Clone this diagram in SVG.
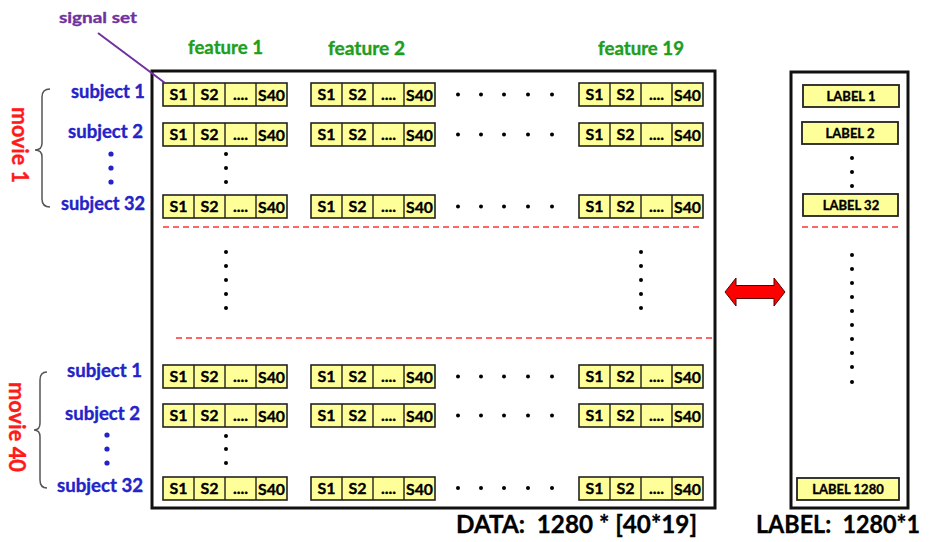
<svg xmlns="http://www.w3.org/2000/svg" width="936" height="542" viewBox="0 0 936 542">
<style>
text{font-family:Lato,"Liberation Sans","DejaVu Sans",sans-serif;font-weight:bold;stroke-width:0.35;stroke-linejoin:round}
.bg{fill:#ffffff}
.box{fill:none;stroke:#111;stroke-width:3}
.sig rect{fill:#FFFF99;stroke:#222;stroke-width:1.6}
.sig path{fill:none;stroke:#222;stroke-width:1.4}
.sig text{font-size:16px;fill:#000;stroke:#000;text-anchor:middle}
.lab rect{fill:#FFFF99;stroke:#222;stroke-width:1.8}
.lab text{font-size:13px;fill:#000;stroke:#000;text-anchor:middle}
.subj{font-size:18px;fill:#2323C8;stroke:#2323C8}
.feat{font-size:18px;fill:#1E9E1E;stroke:#1E9E1E}
.movie{font-size:22px;fill:#FF1A1A;stroke:#FF1A1A;text-anchor:middle}
.cap{font-size:25px;fill:#000;stroke:#000}
.sigset{font-size:16px;fill:#7030A0;stroke:#7030A0}
.dash{fill:none;stroke:#FF3333;stroke-width:1.5;stroke-dasharray:6 4}
.dot{fill:#000}
.bdot{fill:#2323C8}
.brace{fill:none;stroke:#555;stroke-width:1.5}
.ptr{fill:none;stroke:#7030A0;stroke-width:2}
.arrow{fill:#FF0000;stroke:#5a0000;stroke-width:1}
</style>
<rect class="bg" x="0" y="0" width="936" height="542"/>

<!-- containers -->
<g id="data-box"><rect class="box" x="152" y="71" width="563" height="437"/></g>
<g id="label-box"><rect class="box" x="791" y="72" width="117" height="436"/></g>

<!-- headers -->
<g id="hdr-signal-set"><text class="sigset" x="59" y="23" textLength="78" lengthAdjust="spacingAndGlyphs">signal set</text></g>
<g id="hdr-f1"><text class="feat" x="188" y="54" textLength="75" lengthAdjust="spacingAndGlyphs">feature 1</text></g>
<g id="hdr-f2"><text class="feat" x="328" y="55" textLength="77" lengthAdjust="spacingAndGlyphs">feature 2</text></g>
<g id="hdr-f19"><text class="feat" x="598" y="55" textLength="86" lengthAdjust="spacingAndGlyphs">feature 19</text></g>

<!-- movie labels & braces -->
<g id="movie1">
<path class="brace" d="M50 89 Q42 89 42 97 V143 Q42 150 35 150 Q42 150 42 157 V199 Q42 207 50 207"/>
<text class="movie" x="12" y="145" transform="rotate(90 12 145)" textLength="76" lengthAdjust="spacingAndGlyphs">movie 1</text>
</g>
<g id="movie40">
<path class="brace" d="M47 372 Q40 372 40 380 V423 Q40 430 34 430 Q40 430 40 437 V480 Q40 488 47 488"/>
<text class="movie" x="9" y="427" transform="rotate(90 9 427)" textLength="90" lengthAdjust="spacingAndGlyphs">movie 40</text>
</g>

<!-- subject labels -->
<g id="m1-subj1"><text class="subj" x="71" y="98" textLength="74" lengthAdjust="spacingAndGlyphs">subject 1</text></g>
<g id="m1-subj2"><text class="subj" x="68" y="138" textLength="75" lengthAdjust="spacingAndGlyphs">subject 2</text></g>
<g id="m1-subj32"><text class="subj" x="61" y="210" textLength="84" lengthAdjust="spacingAndGlyphs">subject 32</text></g>
<g id="m40-subj1"><text class="subj" x="67" y="377" textLength="75" lengthAdjust="spacingAndGlyphs">subject 1</text></g>
<g id="m40-subj2"><text class="subj" x="65" y="420" textLength="75" lengthAdjust="spacingAndGlyphs">subject 2</text></g>
<g id="m40-subj32"><text class="subj" x="57" y="492" textLength="86" lengthAdjust="spacingAndGlyphs">subject 32</text></g>
<g id="subj-dots">
<circle class="bdot" cx="111" cy="154" r="2.6"/><circle class="bdot" cx="111" cy="168" r="2.6"/><circle class="bdot" cx="111" cy="182" r="2.6"/>
<circle class="bdot" cx="107" cy="435" r="2.6"/><circle class="bdot" cx="107" cy="449" r="2.6"/><circle class="bdot" cx="107" cy="463" r="2.6"/>
</g>

<!-- signal sets: movie 1 -->
<g id="m1-s1-f1" class="sig" transform="translate(163,83)"><rect width="124" height="23"/><path d="M31 0V23M62 0V23M93 0V23"/><text x="15.5" y="17">S1</text><text x="46.5" y="17">S2</text><text x="77.5" y="17">....</text><text x="108.5" y="17.5" textLength="27" lengthAdjust="spacingAndGlyphs">S40</text></g>
<g id="m1-s1-f2" class="sig" transform="translate(311,83)"><rect width="124" height="23"/><path d="M31 0V23M62 0V23M93 0V23"/><text x="15.5" y="17">S1</text><text x="46.5" y="17">S2</text><text x="77.5" y="17">....</text><text x="108.5" y="17.5" textLength="27" lengthAdjust="spacingAndGlyphs">S40</text></g>
<g id="m1-s1-f19" class="sig" transform="translate(579,83)"><rect width="124" height="23"/><path d="M31 0V23M62 0V23M93 0V23"/><text x="15.5" y="17">S1</text><text x="46.5" y="17">S2</text><text x="77.5" y="17">....</text><text x="108.5" y="17.5" textLength="27" lengthAdjust="spacingAndGlyphs">S40</text></g>
<g id="m1-s2-f1" class="sig" transform="translate(163,123)"><rect width="124" height="23"/><path d="M31 0V23M62 0V23M93 0V23"/><text x="15.5" y="17">S1</text><text x="46.5" y="17">S2</text><text x="77.5" y="17">....</text><text x="108.5" y="17.5" textLength="27" lengthAdjust="spacingAndGlyphs">S40</text></g>
<g id="m1-s2-f2" class="sig" transform="translate(311,123)"><rect width="124" height="23"/><path d="M31 0V23M62 0V23M93 0V23"/><text x="15.5" y="17">S1</text><text x="46.5" y="17">S2</text><text x="77.5" y="17">....</text><text x="108.5" y="17.5" textLength="27" lengthAdjust="spacingAndGlyphs">S40</text></g>
<g id="m1-s2-f19" class="sig" transform="translate(579,123)"><rect width="124" height="23"/><path d="M31 0V23M62 0V23M93 0V23"/><text x="15.5" y="17">S1</text><text x="46.5" y="17">S2</text><text x="77.5" y="17">....</text><text x="108.5" y="17.5" textLength="27" lengthAdjust="spacingAndGlyphs">S40</text></g>
<g id="m1-s32-f1" class="sig" transform="translate(163,195)"><rect width="124" height="23"/><path d="M31 0V23M62 0V23M93 0V23"/><text x="15.5" y="17">S1</text><text x="46.5" y="17">S2</text><text x="77.5" y="17">....</text><text x="108.5" y="17.5" textLength="27" lengthAdjust="spacingAndGlyphs">S40</text></g>
<g id="m1-s32-f2" class="sig" transform="translate(311,195)"><rect width="124" height="23"/><path d="M31 0V23M62 0V23M93 0V23"/><text x="15.5" y="17">S1</text><text x="46.5" y="17">S2</text><text x="77.5" y="17">....</text><text x="108.5" y="17.5" textLength="27" lengthAdjust="spacingAndGlyphs">S40</text></g>
<g id="m1-s32-f19" class="sig" transform="translate(579,195)"><rect width="124" height="23"/><path d="M31 0V23M62 0V23M93 0V23"/><text x="15.5" y="17">S1</text><text x="46.5" y="17">S2</text><text x="77.5" y="17">....</text><text x="108.5" y="17.5" textLength="27" lengthAdjust="spacingAndGlyphs">S40</text></g>

<!-- signal sets: movie 40 -->
<g id="m40-s1-f1" class="sig" transform="translate(163,365)"><rect width="124" height="23"/><path d="M31 0V23M62 0V23M93 0V23"/><text x="15.5" y="17">S1</text><text x="46.5" y="17">S2</text><text x="77.5" y="17">....</text><text x="108.5" y="17.5" textLength="27" lengthAdjust="spacingAndGlyphs">S40</text></g>
<g id="m40-s1-f2" class="sig" transform="translate(311,365)"><rect width="124" height="23"/><path d="M31 0V23M62 0V23M93 0V23"/><text x="15.5" y="17">S1</text><text x="46.5" y="17">S2</text><text x="77.5" y="17">....</text><text x="108.5" y="17.5" textLength="27" lengthAdjust="spacingAndGlyphs">S40</text></g>
<g id="m40-s1-f19" class="sig" transform="translate(579,365)"><rect width="124" height="23"/><path d="M31 0V23M62 0V23M93 0V23"/><text x="15.5" y="17">S1</text><text x="46.5" y="17">S2</text><text x="77.5" y="17">....</text><text x="108.5" y="17.5" textLength="27" lengthAdjust="spacingAndGlyphs">S40</text></g>
<g id="m40-s2-f1" class="sig" transform="translate(163,404)"><rect width="124" height="23"/><path d="M31 0V23M62 0V23M93 0V23"/><text x="15.5" y="17">S1</text><text x="46.5" y="17">S2</text><text x="77.5" y="17">....</text><text x="108.5" y="17.5" textLength="27" lengthAdjust="spacingAndGlyphs">S40</text></g>
<g id="m40-s2-f2" class="sig" transform="translate(311,404)"><rect width="124" height="23"/><path d="M31 0V23M62 0V23M93 0V23"/><text x="15.5" y="17">S1</text><text x="46.5" y="17">S2</text><text x="77.5" y="17">....</text><text x="108.5" y="17.5" textLength="27" lengthAdjust="spacingAndGlyphs">S40</text></g>
<g id="m40-s2-f19" class="sig" transform="translate(579,404)"><rect width="124" height="23"/><path d="M31 0V23M62 0V23M93 0V23"/><text x="15.5" y="17">S1</text><text x="46.5" y="17">S2</text><text x="77.5" y="17">....</text><text x="108.5" y="17.5" textLength="27" lengthAdjust="spacingAndGlyphs">S40</text></g>
<g id="m40-s32-f1" class="sig" transform="translate(163,477)"><rect width="124" height="23"/><path d="M31 0V23M62 0V23M93 0V23"/><text x="15.5" y="17">S1</text><text x="46.5" y="17">S2</text><text x="77.5" y="17">....</text><text x="108.5" y="17.5" textLength="27" lengthAdjust="spacingAndGlyphs">S40</text></g>
<g id="m40-s32-f2" class="sig" transform="translate(311,477)"><rect width="124" height="23"/><path d="M31 0V23M62 0V23M93 0V23"/><text x="15.5" y="17">S1</text><text x="46.5" y="17">S2</text><text x="77.5" y="17">....</text><text x="108.5" y="17.5" textLength="27" lengthAdjust="spacingAndGlyphs">S40</text></g>
<g id="m40-s32-f19" class="sig" transform="translate(579,477)"><rect width="124" height="23"/><path d="M31 0V23M62 0V23M93 0V23"/><text x="15.5" y="17">S1</text><text x="46.5" y="17">S2</text><text x="77.5" y="17">....</text><text x="108.5" y="17.5" textLength="27" lengthAdjust="spacingAndGlyphs">S40</text></g>

<!-- ellipsis dots in data box -->
<g id="data-dots">
<g transform="translate(0,94.5)"><circle class="dot" cx="458" cy="0" r="2"/><circle class="dot" cx="481" cy="0" r="2"/><circle class="dot" cx="504" cy="0" r="2"/><circle class="dot" cx="528" cy="0" r="2"/><circle class="dot" cx="552" cy="0" r="2"/></g>
<g transform="translate(0,134.5)"><circle class="dot" cx="458" cy="0" r="2"/><circle class="dot" cx="481" cy="0" r="2"/><circle class="dot" cx="504" cy="0" r="2"/><circle class="dot" cx="528" cy="0" r="2"/><circle class="dot" cx="552" cy="0" r="2"/></g>
<g transform="translate(0,206.5)"><circle class="dot" cx="458" cy="0" r="2"/><circle class="dot" cx="481" cy="0" r="2"/><circle class="dot" cx="504" cy="0" r="2"/><circle class="dot" cx="528" cy="0" r="2"/><circle class="dot" cx="552" cy="0" r="2"/></g>
<g transform="translate(0,376.5)"><circle class="dot" cx="458" cy="0" r="2"/><circle class="dot" cx="481" cy="0" r="2"/><circle class="dot" cx="504" cy="0" r="2"/><circle class="dot" cx="528" cy="0" r="2"/><circle class="dot" cx="552" cy="0" r="2"/></g>
<g transform="translate(0,415.5)"><circle class="dot" cx="458" cy="0" r="2"/><circle class="dot" cx="481" cy="0" r="2"/><circle class="dot" cx="504" cy="0" r="2"/><circle class="dot" cx="528" cy="0" r="2"/><circle class="dot" cx="552" cy="0" r="2"/></g>
<g transform="translate(0,488)"><circle class="dot" cx="458" cy="0" r="2"/><circle class="dot" cx="481" cy="0" r="2"/><circle class="dot" cx="504" cy="0" r="2"/><circle class="dot" cx="528" cy="0" r="2"/><circle class="dot" cx="552" cy="0" r="2"/></g>
<circle class="dot" cx="226" cy="154" r="2"/><circle class="dot" cx="226" cy="168" r="2"/><circle class="dot" cx="226" cy="182" r="2"/>
<circle class="dot" cx="226" cy="436" r="2"/><circle class="dot" cx="226" cy="449" r="2"/><circle class="dot" cx="226" cy="463" r="2"/>
<circle class="dot" cx="226" cy="252" r="2"/><circle class="dot" cx="226" cy="266" r="2"/><circle class="dot" cx="226" cy="280" r="2"/><circle class="dot" cx="226" cy="294" r="2"/><circle class="dot" cx="226" cy="308" r="2"/>
<circle class="dot" cx="641" cy="252" r="2"/><circle class="dot" cx="641" cy="266" r="2"/><circle class="dot" cx="641" cy="280" r="2"/><circle class="dot" cx="641" cy="294" r="2"/><circle class="dot" cx="641" cy="308" r="2"/>
</g>

<!-- separators -->
<g id="separators">
<line class="dash" x1="163" y1="227" x2="701" y2="227"/>
<line class="dash" x1="176" y1="338" x2="714" y2="338"/>
<line class="dash" x1="802" y1="227" x2="898" y2="227"/>
</g>

<!-- labels -->
<g id="label1" class="lab"><rect x="803" y="85" width="96" height="22"/><text x="851" y="100.5">LABEL 1</text></g>
<g id="label2" class="lab"><rect x="802" y="122" width="96" height="22"/><text x="850" y="137.5">LABEL 2</text></g>
<g id="label32" class="lab"><rect x="803" y="194" width="95" height="22"/><text x="851" y="209.5">LABEL 32</text></g>
<g id="label1280" class="lab"><rect x="797" y="478" width="102" height="22"/><text x="848" y="493.5">LABEL 1280</text></g>
<g id="label-dots">
<circle class="dot" cx="852" cy="158" r="2"/><circle class="dot" cx="852" cy="172" r="2"/><circle class="dot" cx="852" cy="186" r="2"/>
<circle class="dot" cx="852" cy="255" r="2"/><circle class="dot" cx="852" cy="269" r="2"/><circle class="dot" cx="852" cy="283" r="2"/><circle class="dot" cx="852" cy="297" r="2"/><circle class="dot" cx="852" cy="311" r="2"/><circle class="dot" cx="852" cy="325" r="2"/><circle class="dot" cx="852" cy="339" r="2"/><circle class="dot" cx="852" cy="353" r="2"/><circle class="dot" cx="852" cy="367" r="2"/><circle class="dot" cx="852" cy="382" r="2"/>
</g>

<!-- captions -->
<g id="cap-data"><text class="cap" x="456" y="533" xml:space="preserve" textLength="241" lengthAdjust="spacingAndGlyphs">DATA:  1280 * [40*19]</text></g>
<g id="cap-label"><text class="cap" x="756" y="533" xml:space="preserve" textLength="164" lengthAdjust="spacingAndGlyphs">LABEL:  1280*1</text></g>

<!-- connectors -->
<g id="connectors">
<line class="ptr" x1="98" y1="33" x2="165" y2="83"/>
<polygon class="arrow" points="725,292 736,278 736,285.5 774,285.5 774,278 785,292 774,306 774,298.5 736,298.5 736,306"/>
</g>
</svg>
